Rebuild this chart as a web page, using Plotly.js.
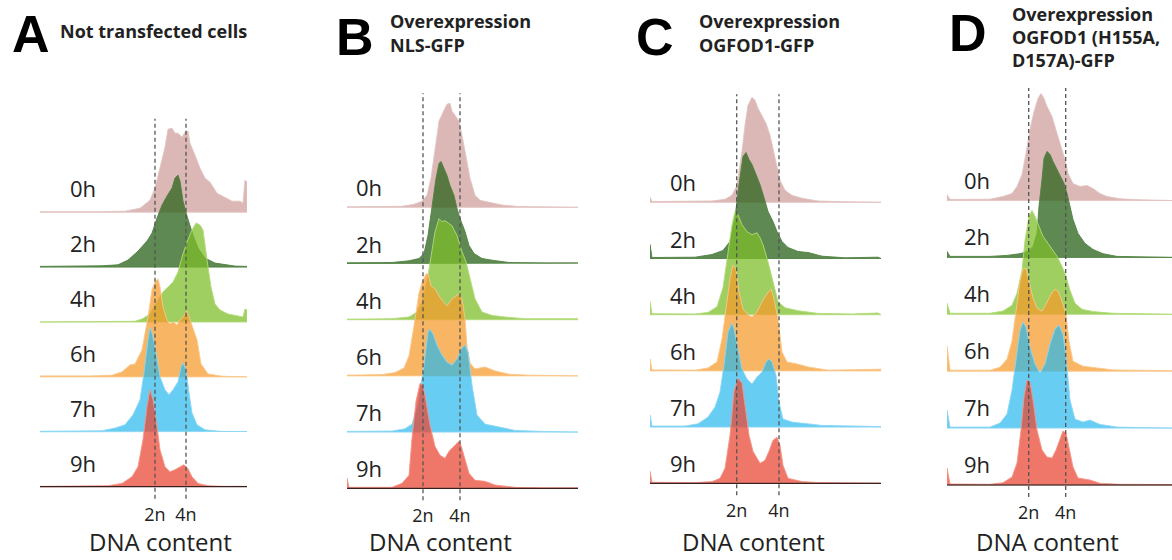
<!DOCTYPE html>
<html>
<head>
<meta charset="utf-8">
<script src="https://cdn.plot.ly/plotly-3.0.1.min.js"></script>
<style>
html,body{margin:0;padding:0;background:#fff;}
#chart{width:1172px;height:560px;}
</style>
</head>
<body>
<div id="chart"></div>
<script>
// ---------------- DATA ----------------
const timepoints = ['0h', '2h', '4h', '6h', '7h', '9h'];
const panelLetters = ['A', 'B', 'C', 'D'];
const panelTitles = [
  ['Not transfected cells'],
  ['Overexpression', 'NLS-GFP'],
  ['Overexpression', 'OGFOD1-GFP'],
  ['Overexpression', 'OGFOD1 (H155A,', 'D157A)-GFP']
];
const tickLabels = ['2n', '4n'];
const pos2n = [115, 76, 86.7, 81.7];   // DNA-content position of 2n peak per panel
const pos4n = [146, 113, 129, 118.7];  // DNA-content position of 4n peak per panel
const axisLabel = 'DNA content';

// Panel A – not transfected cells
const a0x = [0,60,85,100,110,115,120,125,128,132,135,138,142,145,148,150,155,160,165,170,177,185,192,200,203,205,207];
const a0y = [0.5,0.5,1,4,12,24,45,65,83,84,79,79,75,80,81,69,57,44,34,30,19,15,11,11,9,32,30];
const a2x = [0,62,78,88,98,107,112,117,122,127,132,135,138,140,143,147,150,153,158,165,175,185,195,207];
const a2y = [0.7,1.3,2.3,7,16,26,34,49,62,71,79,89,92,86,66,51,41,32,19,9,4,2.3,1,0.7];
const a4x = [0,80,95,102,110,118,123,128,133,138,142,147,152,156,160,163,165,168,171,175,180,188,198,203,205,207];
const a4y = [0,0.3,0.7,3,8,22,30,35,40,50,65,80,92,99,97,92,75,55,35,18,12,8,6,5,13,12];
const a6x = [0,50,72,82,90,95,102,108,112,115,118,120,123,127,130,133,137,140,143,147,149,152,157,161,168,182,207];
const a6y = [1,1,1.7,5,12,13,27,60,87,95,98,90,70,57,53,55,52,57,60,66,60,50,37,13,3,0.7,0.5];
const a7x = [0,62,75,85,93,100,104,108,110,112,116,120,125,129,133,138,141,143,146,149,152,157,165,182,207];
const a7y = [0.5,1,3.7,7,17,32,59,92,104,99,79,55,42,37,42,50,65,69,62,39,19,7,2,0.3,0.3];
const a9x = [0,68,82,92,98,103,107,110,113,117,120,125,130,135,140,144,148,152,158,168,182,207];
const a9y = [0.3,1,3.3,10,20,47,80,97,87,60,37,20,15,17,20,22,18,10,3.3,1,0.3,0.3];

// Panel B – NLS-GFP
const b0x = [0,55,67,75,80,84,88,92,97,100,103,105,108,112,115,119,123,128,133,142,155,172,195,231];
const b0y = [0.5,1,3,6,12,29,56,86,97,103,104,96,92,86,72,52,29,12,7,5,2.3,0.7,0.5,0.3];
const b2x = [0,45,62,72,77,81,85,89,92,94,97,100,103,107,110,113,118,122,127,135,145,162,195,231];
const b2y = [0.7,1,2.7,5,10,28,55,85,100,102,95,88,78,68,55,45,32,18,10,5,3.3,1,0.5,0.5];
const b4x = [0,45,62,70,75,81,85,88,92,95,98,102,105,110,115,119,123,128,135,145,158,178,228,231];
const b4y = [0.5,1,2.7,7.7,17.7,44,68,88,101,98,99,96,94,84,68,58,41,21,7.7,4.3,2.7,1,1,1];
const b6x = [0,35,48,57,62,67,72,75,79,81,84,88,92,97,100,105,110,112,115,118,120,123,128,138,148,162,182,231];
const b6y = [0.7,1.3,3.3,8,20,50,83,93,102,102,90,87,80,73,70,77,80,82,77,57,30,13,7,9,5,1.7,0.7,0.5];
const b7x = [0,45,58,65,71,77,81,83,86,90,95,100,105,110,114,118,121,125,130,138,152,168,195,231];
const b7y = [0.7,1,3.3,8,27,67,100,103,98,87,77,70,67,73,83,87,80,47,17,8,5,1.7,0.7,0.5];
const b9x = [0,2,45,55,62,65,69,73,76,79,83,88,93,98,102,107,112,114,118,122,128,138,148,168,195,231];
const b9y = [10,1,1,5,13,50,87,105,103,87,63,42,33,30,37,42,47,43,30,15,8,7,3.3,1,0.3,0.3];

// Panel C – OGFOD1-GFP
const c0x = [0,2,45,62,75,82,87,92,95,98,102,105,108,112,116,120,123,127,130,135,142,152,168,195,231];
const c0y = [5,0.7,0.7,1.3,3,7,17,51,77,97,105,102,94,87,79,67,54,37,22,12,7,4,1.3,0.5,0.3];
const c2x = [0,2,45,62,73,80,85,89,93,96,99,102,106,110,114,118,123,127,132,138,148,158,172,195,228,231];
const c2y = [14,1,1.3,4,8,17,41,74,102,106,99,94,84,74,61,47,37,27,17,11,7,6,2.3,0.7,1.3,0.5];
const c4x = [0,2,45,58,67,73,78,82,85,88,92,97,102,107,110,113,118,123,128,135,148,168,202,228,231];
const c4y = [13,1,0.7,2.3,8,27,60,90,103,100,90,83,80,82,77,70,53,33,13,7,4,1.3,0.7,1.7,0.5];
const c6x = [0,2,45,58,67,72,77,80,83,86,89,93,98,102,107,112,117,121,124,128,132,137,147,158,178,231];
const c6y = [12,1,0.7,3,9,32,69,92,106,102,79,62,56,54,59,69,77,82,72,52,19,9,7,4,0.7,1.7];
const c7x = [0,2,35,48,58,65,70,74,78,82,84,88,92,97,102,107,112,116,119,122,126,129,133,142,155,172,231];
const c7y = [12,1,1,3.3,10,20,35,62,95,104,98,78,58,48,43,50,55,65,68,65,52,25,8,5,3.3,1.7,0.5];
const c9x = [0,2,45,62,70,75,80,84,88,92,95,99,103,110,115,119,123,127,130,133,138,152,168,231];
const c9y = [12,1,0.7,1.7,5,15,48,92,105,100,78,48,32,20,23,32,43,46,38,18,5,1.7,0.7,0.3];

// Panel D – OGFOD1 (H155A, D157A)-GFP
const d0x = [0,3,43,56,65,70,75,79,83,87,91,94,97,100,105,110,114,118,121,126,133,140,146,153,160,173,193,225];
const d0y = [6,1,1.3,4,7,14,26,47,71,89,102,107,102,94,84,67,54,41,27,17,14,15,12,7,4,1.7,0.7,0.5];
const d2x = [0,3,43,60,73,81,86,90,92,95,97,100,103,106,110,114,117,120,123,126,131,138,146,156,170,193,225];
const d2y = [6,1,1,2,3.7,6,11,24,51,78,99,106,103,96,88,81,74,64,51,38,24,14,8,3.7,1,0.7,0.7];
const d4x = [0,3,43,56,65,70,75,78,82,85,88,92,96,101,106,110,115,119,123,128,135,146,166,225];
const d4y = [11,1,1,3.3,9,21,44,74,98,104,98,88,78,71,64,58,48,38,24,11,5,2.7,1,0.5];
const d6x = [0,3,43,53,60,65,69,73,76,79,82,86,90,95,99,104,108,111,115,119,122,126,136,150,166,225];
const d6y = [25,1,1,4,12,30,63,90,102,103,90,73,63,60,67,77,82,80,70,57,30,10,5,3.3,1.3,0.5];
const d7x = [0,3,43,53,60,65,69,73,76,79,83,88,93,98,103,108,112,116,119,123,128,136,143,153,170,225];
const d7y = [18,1,1,5,14,38,71,98,106,101,81,64,55,64,84,99,103,94,71,28,9,6,8,3.7,1,0.5];
const d9x = [0,3,43,56,65,70,74,77,80,83,86,90,95,100,105,109,113,116,119,122,126,131,143,153,173,225];
const d9y = [17,1,0.7,2.3,8,22,55,88,105,103,85,55,35,28,27,35,45,54,52,38,18,7,5,1.7,0.7,0.5];

const panelSeries = [
  [[a0x,a0y],[a2x,a2y],[a4x,a4y],[a6x,a6y],[a7x,a7y],[a9x,a9y]],
  [[b0x,b0y],[b2x,b2y],[b4x,b4y],[b6x,b6y],[b7x,b7y],[b9x,b9y]],
  [[c0x,c0y],[c2x,c2y],[c4x,c4y],[c6x,c6y],[c7x,c7y],[c9x,c9y]],
  [[d0x,d0y],[d2x,d2y],[d4x,d4y],[d6x,d6y],[d7x,d7y],[d9x,d9y]]
];

// ---------------- STYLE / GEOMETRY ----------------
const W = 1172, H = 560;
const fillColors = ['rgba(204,152,150,0.70)','rgba(45,100,28,0.76)','rgba(125,190,42,0.74)',
                    'rgba(245,155,45,0.74)','rgba(38,184,236,0.70)','rgba(234,72,52,0.74)'];
const lineColors = ['rgba(226,196,194,0.9)','rgba(80,130,65,0.9)','rgba(178,220,120,0.9)',
                    'rgba(250,200,140,0.9)','rgba(140,215,245,0.9)','rgba(245,150,135,0.9)'];
const geom = [
  {left:40,  width:207, base:486.7, step:54.9, dashTop:368, labelX:68,  raise:24, axisColor:'#3b2020', titleX:160},
  {left:347, width:231, base:488.3, step:56.2, dashTop:395, labelX:354, raise:20, axisColor:'#3b2020', titleX:440},
  {left:650, width:231, base:483.3, step:56.2, dashTop:389, labelX:668, raise:20, axisColor:'#3b2020', titleX:753.5},
  {left:947, width:225, base:485.0, step:56.9, dashTop:397, labelX:962, raise:21, axisColor:'#111111', titleX:1047.5}
];
const letterPos = [{x:10,y:34},{x:334,y:37},{x:634,y:37},{x:947,y:33}];
const titlePos = [{x:58,y:[31]},{x:388,y:[21,45]},{x:697,y:[21,45]},{x:1010,y:[14,37,60]}];
const FONT = 'Open Sans, Noto Sans, sans-serif';

const traces = [];
const shapes = [];
const annotations = [];
const layout = {
  width: W, height: H,
  margin: {l:0, r:0, t:0, b:0},
  paper_bgcolor: '#fff', plot_bgcolor: 'rgba(0,0,0,0)',
  showlegend: false,
  font: {family: FONT, color: '#222'}
};

geom.forEach((g, i) => {
  const n = i + 1;
  const xa = 'x' + (n === 1 ? '' : n), ya = 'y' + (n === 1 ? '' : n);
  const xkey = 'xaxis' + (n === 1 ? '' : n), ykey = 'yaxis' + (n === 1 ? '' : n);
  layout[xkey] = {
    domain: [g.left / W, Math.min(1, (g.left + g.width) / W)],
    range: [0, g.width], anchor: ya,
    showgrid: false, zeroline: false, showline: false, ticks: '',
    tickvals: [pos2n[i], pos4n[i]], ticktext: tickLabels,
    tickfont: {size: 18, family: FONT, color: '#222'}, fixedrange: true
  };
  layout[ykey] = {
    domain: [1 - (g.base + 15) / H, 1 - (g.base - 400) / H],
    range: [-15, 400], anchor: xa,
    showgrid: false, zeroline: false, showline: false, showticklabels: false, fixedrange: true
  };
  panelSeries[i].forEach((s, k) => {
    const off = (timepoints.length - 1 - k) * g.step;
    const xs = [0].concat(s[0], [g.width, 0]);
    const ys = [off].concat(s[1].map(v => v + off), [off, off]);
    traces.push({
      x: xs, y: ys, xaxis: xa, yaxis: ya, mode: 'lines', fill: 'toself',
      fillcolor: fillColors[k], line: {color: lineColors[k], width: 1},
      hoverinfo: 'skip', name: panelLetters[i] + ' ' + timepoints[k]
    });
    annotations.push({
      xref: 'paper', x: g.labelX / W, xanchor: 'left',
      yref: ya, y: off + g.raise, yanchor: 'middle',
      text: timepoints[k], showarrow: false,
      font: {size: 22, family: FONT, color: '#222'}
    });
  });
  [pos2n[i], pos4n[i]].forEach(p => {
    shapes.push({type:'line', xref:xa, yref:ya, x0:p, x1:p, y0:-12, y1:g.dashTop,
      line:{color:'#555', width:1.3, dash:'4px,3px'}, layer:'above'});
  });
  shapes.push({type:'line', xref:xa, yref:ya, x0:0, x1:g.width, y0:0, y1:0,
    line:{color:g.axisColor, width:1.2}, layer:'above'});
  annotations.push({
    xref:'paper', x: g.titleX / W, xanchor:'center',
    yref:'paper', y: 1 - 541 / H, yanchor:'middle',
    text: axisLabel, showarrow:false, font:{size:24, family:FONT, color:'#222'}
  });
  annotations.push({
    xref:'paper', x: letterPos[i].x / W, xanchor:'left',
    yref:'paper', y: 1 - letterPos[i].y / H, yanchor:'middle',
    text: '<b>' + panelLetters[i] + '</b>', showarrow:false,
    font:{size:52, family:'Liberation Sans, Arial, sans-serif', color:'#000'}
  });
  panelTitles[i].forEach((line, j) => {
    annotations.push({
      xref:'paper', x: titlePos[i].x / W, xanchor:'left',
      yref:'paper', y: 1 - titlePos[i].y[j] / H, yanchor:'middle',
      text: '<b>' + line + '</b>', showarrow:false,
      font:{size:18, family:FONT, color:'#222'}
    });
  });
});

layout.shapes = shapes;
layout.annotations = annotations;
Plotly.newPlot('chart', traces, layout, {staticPlot: true, displayModeBar: false});
</script>
</body>
</html>
